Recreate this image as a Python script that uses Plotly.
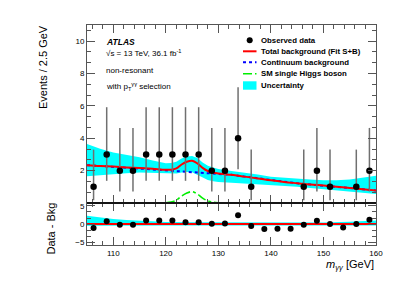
import plotly.graph_objects as go

# ---------------- data ----------------
bin_centers = [106.25, 108.75, 111.25, 113.75, 116.25, 118.75, 121.25, 123.75,
               126.25, 128.75, 131.25, 133.75, 136.25, 138.75, 141.25, 143.75,
               146.25, 148.75, 151.25, 153.75, 156.25, 158.75]
observed = [1, 3, 2, 2, 3, 3, 3, 3, 3, 2, 2, 4, 1, 0, 0, 0, 1, 2, 1, 0, 1, 2]
err_up = [2.30, 2.92, 2.64, 2.64, 2.92, 2.92, 2.92, 2.92, 2.92, 2.64, 2.64, 3.16,
          2.30, None, None, None, 2.30, 2.64, 2.30, None, 2.30, 2.64]
err_down = [0.83, 1.63, 1.29, 1.29, 1.63, 1.63, 1.63, 1.63, 1.63, 1.29, 1.29, 1.91,
            0.83, None, None, None, 0.83, 1.29, 0.83, None, 0.83, 1.29]
residual = [-1.1, 0.75, -0.2, -0.2, 1.0, 1.0, 1.0, 0.5, 0.5, 0.1, 0.15, 2.4,
            -0.55, -1.4, -1.35, -1.35, -0.2, 0.9, 0.0, -0.95, 0.0, 1.2]

curve_x = [105, 107.5, 110, 112.5, 115, 117.5, 120, 121, 122, 123, 124, 125, 126,
           127, 128, 129, 130, 132.5, 135, 137.5, 140, 142.5, 145, 147.5, 150,
           152.5, 155, 157.5, 160]
continuum = [2.34, 2.29, 2.25, 2.20, 2.16, 2.11, 2.03, 2.00, 1.97, 1.95, 1.93, 1.91,
             1.89, 1.87, 1.85, 1.83, 1.81, 1.74, 1.63, 1.52, 1.40, 1.30, 1.22, 1.14,
             1.08, 1.01, 0.93, 0.85, 0.77]
total_bkg = [2.34, 2.29, 2.25, 2.20, 2.16, 2.11, 2.05, 2.06, 2.14, 2.38, 2.55, 2.61,
             2.45, 2.17, 1.98, 1.89, 1.83, 1.74, 1.63, 1.52, 1.40, 1.30, 1.22, 1.14,
             1.08, 1.01, 0.93, 0.85, 0.77]
band_hi = [3.64, 3.35, 3.12, 2.97, 2.82, 2.62, 2.45, 2.47, 2.55, 2.75, 2.88, 2.90,
           2.78, 2.50, 2.30, 2.20, 2.10, 1.98, 1.88, 1.76, 1.62, 1.55, 1.50, 1.45,
           1.40, 1.40, 1.45, 1.55, 1.69]
band_lo = [1.65, 1.72, 1.78, 1.84, 1.88, 1.86, 1.80, 1.80, 1.82, 1.88, 1.92, 1.90,
           1.75, 1.55, 1.42, 1.35, 1.30, 1.25, 1.20, 1.15, 1.12, 1.06, 1.00, 0.92,
           0.85, 0.78, 0.72, 0.64, 0.56]

higgs_x = [120, 121, 122, 123, 124, 125, 126, 127, 128, 129, 130]
higgs = [0.02, 0.06, 0.17, 0.43, 0.62, 0.70, 0.56, 0.30, 0.13, 0.05, 0.02]

res_band_x = [105, 107.5, 110, 112.5, 115, 117.5, 120, 125, 130, 135, 140, 145,
              150, 155, 160]
res_band_hi = [2.3, 1.8, 1.4, 1.1, 0.9, 0.7, 0.55, 0.5, 0.45, 0.4, 0.4, 0.4,
               0.45, 0.6, 1.0]
res_band_lo = [-0.5, -0.45, -0.4, -0.4, -0.4, -0.4, -0.4, -0.4, -0.4, -0.4, -0.4,
               -0.4, -0.4, -0.4, -0.4]

upper_ticks = [2, 4, 6, 8, 10]
lower_ticks = [-5, 0, 5]
lower_tick_text = ["\u22125", "0", "5"]
x_ticks = [110, 120, 130, 140, 150, 160]

# ---------------- layout helpers ----------------
W, H = 407, 292
L, R, T, B = 79, 39, 17, 55
PW, PH = W - L - R, H - T - B
SPLIT = (237 - 195) / PH  # lower panel fraction


def px(xp):
    return (xp - L) / PW


def py(yp):
    return (T + PH - yp) / PH


FONT = "Liberation Sans, Arial, Helvetica, sans-serif"
CYAN = "#00ffff"
AXC = "#555555"
ERRC = "#707070"

obs_upper = [v if v > 0 else None for v in observed]

fig = go.Figure()

# upper panel
fig.add_trace(go.Scatter(x=curve_x, y=band_lo, mode="lines", line=dict(width=0),
                         showlegend=False, hoverinfo="skip"))
fig.add_trace(go.Scatter(x=curve_x, y=band_hi, mode="lines", line=dict(width=0),
                         fill="tonexty", fillcolor=CYAN, showlegend=False))
fig.add_trace(go.Scatter(x=higgs_x, y=higgs, mode="lines", line_shape="spline",
                         line=dict(color="#00ee00", width=1.6, dash="dashdot"),
                         showlegend=False))
fig.add_trace(go.Scatter(x=curve_x, y=continuum, mode="lines",
                         line=dict(color="#0000ff", width=2, dash="dot"),
                         showlegend=False))
fig.add_trace(go.Scatter(x=curve_x, y=total_bkg, mode="lines", line_shape="spline",
                         line=dict(color="#ff0000", width=2), showlegend=False))
fig.add_trace(go.Scatter(x=bin_centers, y=obs_upper, mode="markers",
                         marker=dict(color="black", size=6.5),
                         error_y=dict(type="data", symmetric=False, array=err_up,
                                      arrayminus=err_down, color=ERRC,
                                      thickness=1.5, width=0),
                         showlegend=False))

# lower panel
fig.add_trace(go.Scatter(x=res_band_x, y=res_band_lo, mode="lines", line=dict(width=0),
                         xaxis="x2", yaxis="y2", showlegend=False))
fig.add_trace(go.Scatter(x=res_band_x, y=res_band_hi, mode="lines", line=dict(width=0),
                         fill="tonexty", fillcolor=CYAN, xaxis="x2", yaxis="y2",
                         showlegend=False))
fig.add_trace(go.Scatter(x=[105, 160], y=[0, 0], mode="lines",
                         line=dict(color="#ff0000", width=2), xaxis="x2", yaxis="y2",
                         showlegend=False))
fig.add_trace(go.Scatter(x=bin_centers, y=residual, mode="markers",
                         marker=dict(color="black", size=6), xaxis="x2", yaxis="y2",
                         showlegend=False))

axis_common = dict(showline=True, linecolor=AXC, linewidth=1, mirror="ticks",
                   ticks="inside", tickcolor=AXC, showgrid=False, zeroline=False,
                   tickfont=dict(family=FONT, size=8, color="black"))

fig.update_layout(
    width=W, height=H,
    margin=dict(l=L, r=R, t=T, b=B),
    paper_bgcolor="white", plot_bgcolor="white",
    showlegend=False,
    xaxis=dict(range=[105, 160], domain=[0, 1], anchor="y", tickvals=x_ticks,
               showticklabels=False, ticklen=8,
               minor=dict(dtick=2, tick0=0, ticks="inside", ticklen=4, tickcolor=AXC),
               **axis_common),
    yaxis=dict(range=[0, 11], domain=[SPLIT, 1], anchor="x", tickvals=upper_ticks,
               ticklen=8,
               minor=dict(dtick=2 / 3, tick0=0, ticks="inside", ticklen=4, tickcolor=AXC),
               **axis_common),
    xaxis2=dict(range=[105, 160], domain=[0, 1], anchor="y2", tickvals=x_ticks,
                ticklen=8,
                minor=dict(dtick=2, tick0=0, ticks="inside", ticklen=4, tickcolor=AXC),
                **axis_common),
    yaxis2=dict(range=[-5.83, 5.83], domain=[0, SPLIT], anchor="x2",
                tickvals=lower_ticks, ticktext=lower_tick_text, ticklen=8,
                minor=dict(dtick=5 / 3, tick0=0, ticks="inside", ticklen=4, tickcolor=AXC),
                **axis_common),
)

# separator between panels
fig.add_shape(type="line", xref="paper", yref="paper", x0=0, x1=1, y0=SPLIT, y1=SPLIT,
              line=dict(color="black", width=1.5))

ann = []
tf = dict(family=FONT, color="black")
ann.append(dict(text="Events / 2.5 GeV", x=px(35), y=py(15), xanchor="center",
                yanchor="top", textangle=-90, font=dict(size=11, **tf)))
ann.append(dict(text="Data - Bkg", x=px(42.5), y=py(221), xanchor="center",
                yanchor="middle", textangle=-90, font=dict(size=11, **tf)))
ann.append(dict(text="<i>m</i><sub><i>\u03b3\u03b3</i></sub> [GeV]", x=px(368), y=py(257),
                xanchor="right", yanchor="middle", font=dict(size=11, **tf)))
ann.append(dict(text="<b><i>ATLAS</i></b>", x=px(96), y=py(34), xanchor="left",
                yanchor="middle", font=dict(size=8.5, **tf)))
ann.append(dict(text="\u221as = 13 TeV, 36.1 fb<sup>-1</sup>", x=px(96), y=py(45),
                xanchor="left", yanchor="middle", font=dict(size=8, **tf)))
ann.append(dict(text="non-resonant", x=px(96), y=py(62), xanchor="left",
                yanchor="middle", font=dict(size=8, **tf)))
ann.append(dict(text="with p<sub>T</sub><sup>\u03b3\u03b3</sup> selection", x=px(96), y=py(78),
                xanchor="left", yanchor="middle", font=dict(size=8, **tf)))

legend_labels = ["Observed data", "Total background (Fit S+B)", "Continuum background",
                 "SM single Higgs boson", "Uncertainty"]
legend_rows = [32.3, 43.3, 54.3, 65.7, 77.3]
for lab, yy in zip(legend_labels, legend_rows):
    ann.append(dict(text="<b>" + lab + "</b>", x=px(251), y=py(yy), xanchor="left",
                    yanchor="middle", font=dict(size=7.8, **tf)))
for a in ann:
    a.update(xref="paper", yref="paper", showarrow=False)
fig.update_layout(annotations=ann)

# legend glyphs
r = 3
fig.add_shape(type="circle", xref="paper", yref="paper", x0=px(241.7 - r), x1=px(241.7 + r),
              y0=py(32.3 + r), y1=py(32.3 - r), fillcolor="black", line=dict(width=0))
fig.add_shape(type="line", xref="paper", yref="paper", x0=px(235), x1=px(248.5),
              y0=py(43.3), y1=py(43.3), line=dict(color="#ff0000", width=2))
fig.add_shape(type="line", xref="paper", yref="paper", x0=px(235), x1=px(248.5),
              y0=py(54.3), y1=py(54.3), line=dict(color="#0000ff", width=2, dash="dot"))
fig.add_shape(type="line", xref="paper", yref="paper", x0=px(235), x1=px(248.5),
              y0=py(65.7), y1=py(65.7), line=dict(color="#00ee00", width=1.6, dash="dashdot"))
fig.add_shape(type="rect", xref="paper", yref="paper", x0=px(235), x1=px(248.5),
              y0=py(81.7), y1=py(73.3), fillcolor=CYAN, line=dict(width=0))

fig.write_html("out.html")
